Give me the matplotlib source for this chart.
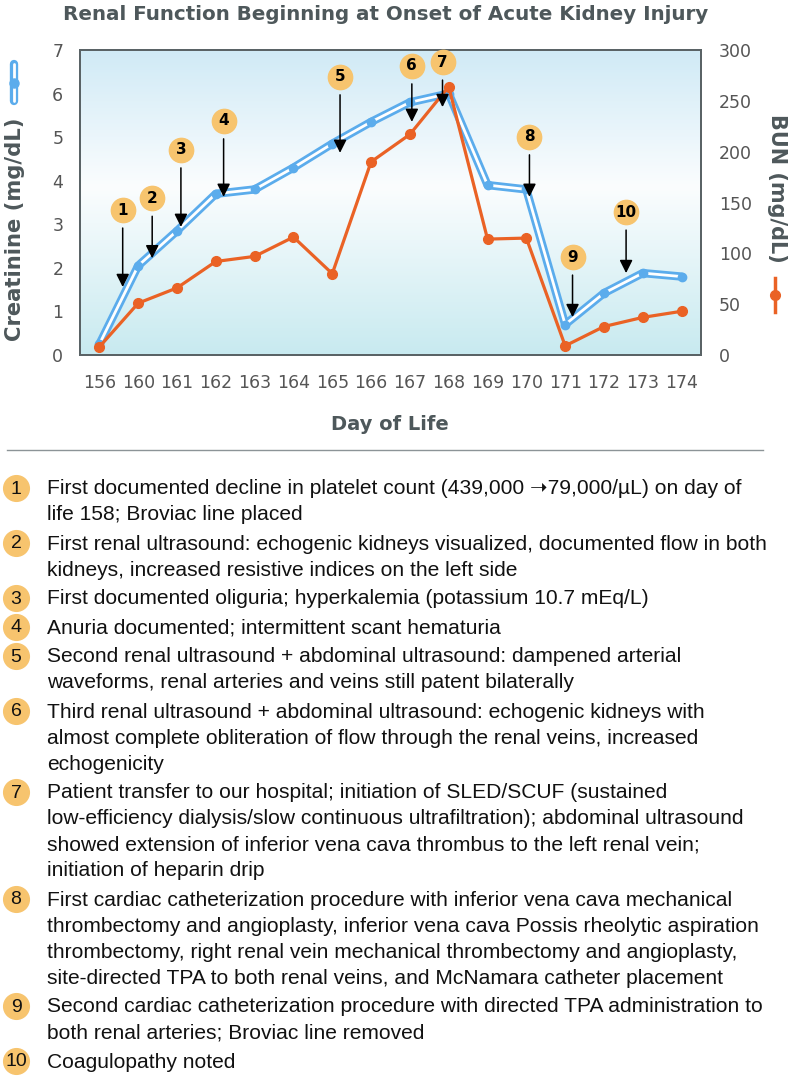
import matplotlib
matplotlib.use('Agg')
import matplotlib.pyplot as plt
import numpy as np
from matplotlib.colors import LinearSegmentedColormap
import matplotlib.transforms as mtransforms

# ---------------- data ----------------
days = ['156', '160', '161', '162', '163', '164', '165', '166', '167',
        '168', '169', '170', '171', '172', '173', '174']
creatinine = [0.25, 2.05, 2.85, 3.70, 3.80, 4.30, 4.85, 5.35, 5.80,
              6.00, 3.90, 3.80, 0.70, 1.42, 1.88, 1.80]
bun = [8, 51, 66, 92, 97, 116, 80, 190, 217, 264, 114, 115, 9, 28, 37, 43]

event_ids = ['1', '2', '3', '4', '5', '6', '7', '8', '9', '10']
event_x = [0.60, 1.36, 2.10, 3.20, 6.20, 8.05, 8.84, 11.08, 12.19, 13.57]
event_tip = [1.56, 2.22, 2.94, 3.63, 4.64, 5.35, 5.69, 3.63, 0.87, 1.88]
event_len = [77, 60, 77, 76, 76, 56, 45, 60, 60, 61]

event_text = [
    ["First documented decline in platelet count (439,000 \u279d79,000/\u00b5L) on day of",
     "life 158; Broviac line placed"],
    ["First renal ultrasound: echogenic kidneys visualized, documented flow in both",
     "kidneys, increased resistive indices on the left side"],
    ["First documented oliguria; hyperkalemia (potassium 10.7 mEq/L)"],
    ["Anuria documented; intermittent scant hematuria"],
    ["Second renal ultrasound + abdominal ultrasound: dampened arterial",
     "waveforms, renal arteries and veins still patent bilaterally"],
    ["Third renal ultrasound + abdominal ultrasound: echogenic kidneys with",
     "almost complete obliteration of flow through the renal veins, increased",
     "echogenicity"],
    ["Patient transfer to our hospital; initiation of SLED/SCUF (sustained",
     "low-efficiency dialysis/slow continuous ultrafiltration); abdominal ultrasound",
     "showed extension of inferior vena cava thrombus to the left renal vein;",
     "initiation of heparin drip"],
    ["First cardiac catheterization procedure with inferior vena cava mechanical",
     "thrombectomy and angioplasty, inferior vena cava Possis rheolytic aspiration",
     "thrombectomy, right renal vein mechanical thrombectomy and angioplasty,",
     "site-directed TPA to both renal veins, and McNamara catheter placement"],
    ["Second cardiac catheterization procedure with directed TPA administration to",
     "both renal arteries; Broviac line removed"],
    ["Coagulopathy noted"],
]

# ---------------- style ----------------
BLUE = '#5BACEC'
ORANGE = '#EA6225'
BADGE = '#F7C46E'
GRAY = '#4E585B'
TICK = '#555555'
CHART_FONT = ['DejaVu Sans']
LIST_FONT = ['Liberation Sans', 'DejaVu Sans']

W, H = 792, 1082
fig = plt.figure(figsize=(W / 100, H / 100), dpi=100)

# overlay axes in pixel coordinates for free layout
ov = fig.add_axes([0, 0, 1, 1], zorder=-5)
ov.set_xlim(0, W)
ov.set_ylim(H, 0)
ov.axis('off')

L, R, T, B = 80, 701, 50, 355
ax = fig.add_axes([L / W, 1 - B / H, (R - L) / W, (B - T) / H])
ax2 = ax.twinx()

# background gradient
cmap = LinearSegmentedColormap.from_list(
    'bg', [(0.0, '#c8eaf0'), (0.55, '#fbfdfe'), (1.0, '#d0eaf6')])
grad = np.linspace(0, 1, 256).reshape(-1, 1)
ax.imshow(grad, cmap=cmap, origin='lower', aspect='auto',
          extent=[0, 1, 0, 1], transform=ax.transAxes, zorder=0)

x = np.arange(len(days))
ax.plot(x, creatinine, color=BLUE, lw=6.0, solid_joinstyle='round',
        solid_capstyle='round', zorder=3)
ax.plot(x, creatinine, color='white', lw=2.0, solid_joinstyle='round', zorder=4)
ax.plot(x, creatinine, 'o', color=BLUE, ms=6.0, zorder=5)

ax2.plot(x, bun, color=ORANGE, lw=2.3, marker='o', ms=7, zorder=3)

ax.set_xlim(-0.5, len(days) - 0.5)
ax.set_ylim(0, 7)
ax2.set_ylim(0, 300)
ax.set_xticks(x)
ax.set_xticklabels(days)
ax.set_yticks(range(0, 8))
ax2.set_yticks(range(0, 301, 50))

for a in (ax, ax2):
    for s in a.spines.values():
        s.set_color('#5a6366')
        s.set_linewidth(1.4)
ax.tick_params(axis='x', length=0, pad=14, labelsize=12.5, labelcolor=TICK)
ax.tick_params(axis='y', length=0, pad=12, labelsize=12.5, labelcolor=TICK)
ax2.tick_params(axis='y', length=0, pad=13, labelsize=12.5, labelcolor=TICK)
for lab in ax.get_xticklabels() + ax.get_yticklabels() + ax2.get_yticklabels():
    lab.set_family(CHART_FONT)

# event markers
for eid, ex, et, el in zip(event_ids, event_x, event_tip, event_len):
    ax2.annotate('', xy=(ex, et), xycoords=ax.transData,
                 xytext=(0, el - 18), textcoords='offset pixels',
                 arrowprops=dict(arrowstyle='-|>,head_length=0.6,head_width=0.3',
                                 color='black', lw=1.1, mutation_scale=13,
                                 shrinkA=0, shrinkB=0), zorder=8)
    tr = mtransforms.offset_copy(ax.transData, fig=fig, x=0, y=el, units='dots')
    ax2.plot([ex], [et], 'o', ms=17.5, color=BADGE, transform=tr,
             clip_on=False, zorder=9)
    ax2.text(ex, et, eid, transform=tr, ha='center', va='center',
             fontsize=11, fontweight='bold', color='black',
             family=CHART_FONT, zorder=10, clip_on=False)

# titles / labels
ov.text(386, 14, 'Renal Function Beginning at Onset of Acute Kidney Injury',
        ha='center', va='center', fontsize=14.3, fontweight='bold',
        color=GRAY, family=CHART_FONT)
ov.text(390, 424, 'Day of Life', ha='center', va='center', fontsize=14,
        fontweight='bold', color=GRAY, family=CHART_FONT)
ov.text(15, 229, 'Creatinine (mg/dL)', ha='center', va='center', rotation=90,
        fontsize=15.2, fontweight='bold', color=GRAY, family=CHART_FONT)
ov.text(777, 188, 'BUN (mg/dL)', ha='center', va='center', rotation=-90,
        fontsize=15, fontweight='bold', color=GRAY, family=CHART_FONT)

# legend glyphs
ov.plot([14, 14], [64, 101], color=BLUE, lw=6.0, solid_capstyle='round')
ov.plot([14, 14], [64, 101], color='white', lw=2.0, solid_capstyle='round')
ov.plot([14], [83], 'o', color=BLUE, ms=6.5)
ov.plot([775, 775], [278, 312], color=ORANGE, lw=2.5)
ov.plot([775], [295], 'o', color=ORANGE, ms=7)

# separator
ov.plot([7, 763], [450, 450], color='#8c9497', lw=1.0)

# list of events
y0, lh, gap = 488, 26, 3
nlines = 0
for i, (eid, lines) in enumerate(zip(event_ids, event_text)):
    yy = y0 + lh * nlines + gap * i
    ov.plot([16], [yy], 'o', ms=18.5, color=BADGE)
    ov.text(16, yy + 1, eid, ha='center', va='center', fontsize=14,
            color='#111111', family=LIST_FONT)
    for j, line in enumerate(lines):
        ov.text(47, yy + lh * j + 1, line, ha='left', va='center',
                fontsize=15.1, color='#111111', family=LIST_FONT)
    nlines += len(lines)

fig.savefig('out.png', dpi=100)
